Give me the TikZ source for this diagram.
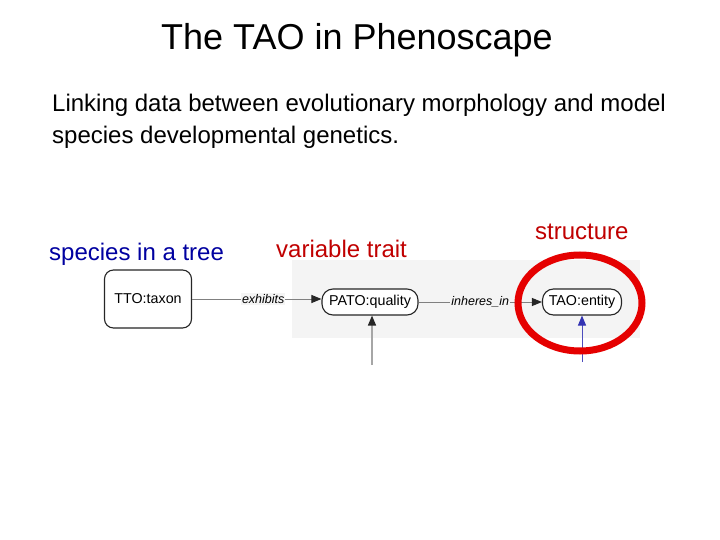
\documentclass[tikz,border=0pt]{standalone}
\usepackage{fontspec}
\setmainfont{Liberation Sans}
\usetikzlibrary{arrows.meta}
\definecolor{dkred}{RGB}{192,0,0}
\definecolor{dkblue}{RGB}{0,0,160}
\definecolor{bggray}{RGB}{244,244,244}
\tikzset{
  term/.style={draw=black!85, line width=1.1pt, font=\fontsize{14.3}{17}\selectfont, inner sep=4pt, fill=white},
  rel/.style={draw=black!50, line width=1pt, -{Triangle[length=10pt,width=8pt,color=black!85]}},
  rellab/.style={font=\itshape\fontsize{12.5}{14}\selectfont, fill=bggray, inner sep=1pt},
  heading/.style={font=\fontsize{24}{28}\selectfont, anchor=base west, inner sep=0pt}
}
\begin{document}
\begin{tikzpicture}[x=1pt,y=-1pt]
\useasboundingbox (0,0) rectangle (720,540);
\node (title) at (357,40) {\fontsize{36}{40}\selectfont The TAO in Phenoscape};
\node[heading] (l1) at (52,112) {Linking data between evolutionary morphology and model};
\node[heading] (l2) at (52,144) {species developmental genetics.};
\node[heading, text=dkblue] (sp) at (49,260) {species in a tree};
\node[heading, text=dkred] (vt) at (276,258) {variable trait};
\node[heading, text=dkred] (st) at (535,240) {structure};
\fill[bggray] (292,260) rectangle (640,338);
\node[term, minimum width=87pt, minimum height=58pt, rounded corners=9pt] (taxon) at (148,299) {TTO:taxon};
\node[term, minimum width=96pt, minimum height=26pt, rounded corners=11pt] (pato) at (370,302) {PATO:quality};
\node[term, minimum width=79pt, minimum height=26pt, rounded corners=11pt] (tao) at (582,302) {TAO:entity};
\draw[rel] (taxon.east) -- node[rellab, pos=0.55] (ex) {exhibits} (pato.west |- taxon.east);
\draw[rel] (pato.east) -- node[rellab, pos=0.5] (inh) {inheres\_in} (tao.west);
\coordinate (pb) at (372,365);
\coordinate (tb) at (582,362);
\draw[rel, draw=black!35, line width=1.5pt] (pb) -- (pb |- pato.south);
\draw[rel, draw=dkblue!70, -{Triangle[length=10pt,width=8pt,color=dkblue!80]}] (tb) -- (tb |- tao.south);
\draw[red!90!black, line width=7pt] (580,303) ellipse [x radius=62, y radius=48];
\end{tikzpicture}
\end{document}
